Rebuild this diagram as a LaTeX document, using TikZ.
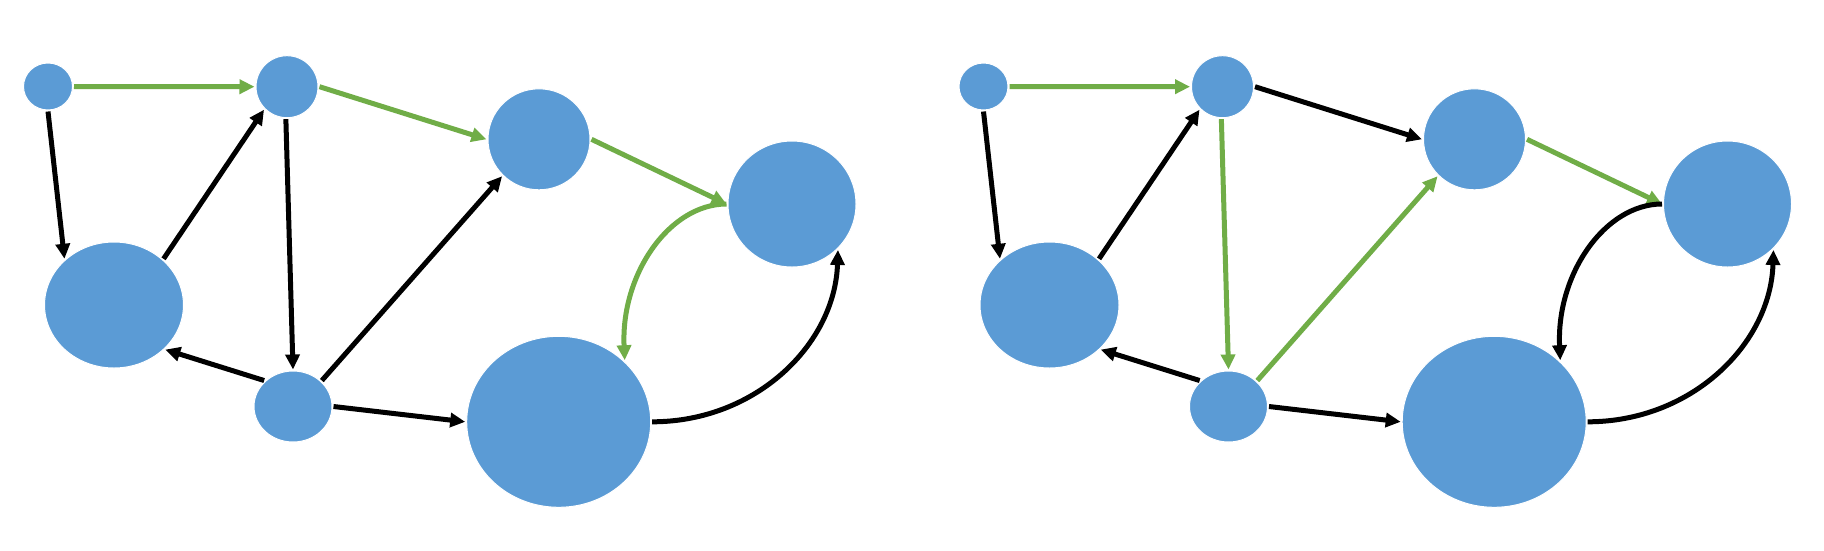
\documentclass[tikz,border=0pt]{standalone}
\usetikzlibrary{shapes.geometric,arrows.meta}
\definecolor{nodeblue}{HTML}{5B9BD5}
\definecolor{edgegreen}{HTML}{70AD47}
\begin{document}
\begin{tikzpicture}[x=1pt,y=-1pt,
  vtx/.style={ellipse,fill=nodeblue,draw=white,line width=1pt,inner sep=0pt,outer sep=1.5pt},
  blk/.style={draw=black,line width=5pt,-{Triangle[length=15pt,width=14pt]}},
  grn/.style={draw=edgegreen,line width=5pt,-{Triangle[length=15pt,width=14pt]},color=edgegreen}]
\useasboundingbox[fill=white] (0,0) rectangle (1824,550);
% ---------- left graph ----------
\node[vtx,minimum width=49pt,minimum height=47pt]   (A) at (48,86.5) {};
\node[vtx,minimum width=62pt,minimum height=62pt]   (B) at (287,86.7) {};
\node[vtx,minimum width=102pt,minimum height=101pt] (C) at (539,139.3) {};
\node[vtx,minimum width=128pt,minimum height=126pt] (D) at (792,204) {};
\node[vtx,minimum width=139pt,minimum height=126pt] (F) at (114,305) {};
\node[vtx,minimum width=78pt,minimum height=71pt]   (E) at (293,406.5) {};
\node[vtx,minimum width=184pt,minimum height=171pt] (G) at (558.7,421.8) {};
\draw[grn] (A.east) -- (B.west);
\draw[blk] (A.south) -- (F.137);
\draw[blk] (F.43) -- (B.225);
\draw[blk] (B.268) -- (E.north);
\draw[blk] (E.138) -- (F.319);
\draw[blk] (E.42) -- (C.225);
\draw[blk] (E.east) -- (G.west);
\draw[grn] (B.east) -- (C.west);
\draw[grn] (C.east) -- (D.west);
\draw[grn] (D.west) .. controls +(-57,0) and +(-4,-86) .. (G.43);
\draw[blk] (G.east) .. controls +(104,0) and +(-3,94) .. (D.315);
% ---------- right graph ----------
\begin{scope}[xshift=935.5pt]
\node[vtx,minimum width=49pt,minimum height=47pt]   (A2) at (48,86.5) {};
\node[vtx,minimum width=62pt,minimum height=62pt]   (B2) at (287,86.7) {};
\node[vtx,minimum width=102pt,minimum height=101pt] (C2) at (539,139.3) {};
\node[vtx,minimum width=128pt,minimum height=126pt] (D2) at (792,204) {};
\node[vtx,minimum width=139pt,minimum height=126pt] (F2) at (114,305) {};
\node[vtx,minimum width=78pt,minimum height=71pt]   (E2) at (293,406.5) {};
\node[vtx,minimum width=184pt,minimum height=171pt] (G2) at (558.7,421.8) {};
\end{scope}
\draw[grn] (A2.east) -- (B2.west);
\draw[blk] (A2.south) -- (F2.137);
\draw[blk] (F2.43) -- (B2.225);
\draw[grn] (B2.268) -- (E2.north);
\draw[blk] (E2.138) -- (F2.319);
\draw[grn] (E2.42) -- (C2.225);
\draw[blk] (E2.east) -- (G2.west);
\draw[blk] (B2.east) -- (C2.west);
\draw[grn] (C2.east) -- (D2.west);
\draw[blk] (D2.west) .. controls +(-57,0) and +(-4,-86) .. (G2.43);
\draw[blk] (G2.east) .. controls +(104,0) and +(-3,94) .. (D2.315);
\end{tikzpicture}
\end{document}
